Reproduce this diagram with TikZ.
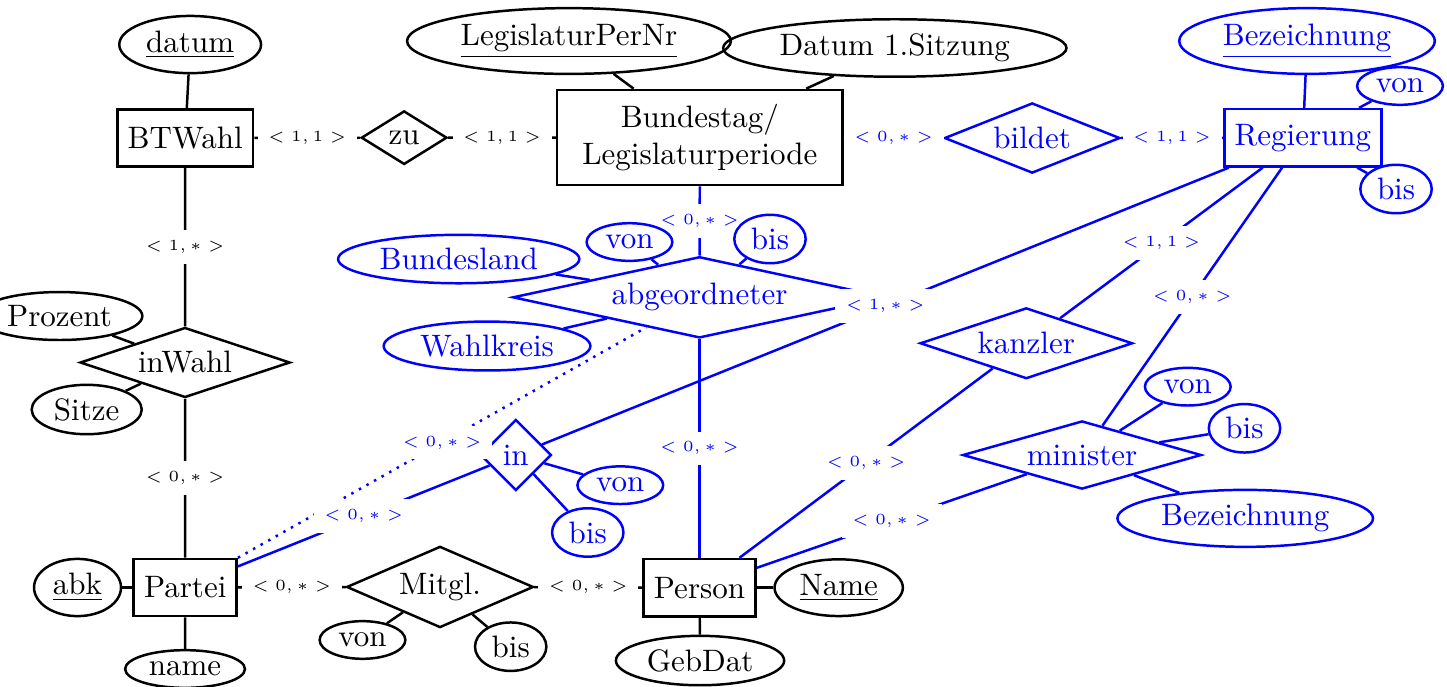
\documentclass[tikz,border=0pt]{standalone}
\usetikzlibrary{shapes.geometric}

\begin{document}
\begin{tikzpicture}[thick,
  entity/.style={draw, rectangle, minimum height=0.65cm},
  rel/.style={draw, diamond, inner sep=2pt},
  attr/.style={draw, ellipse, inner sep=2pt},
  card/.style={fill=white, font=\tiny},
  ]
  \useasboundingbox (0,0) rectangle (16.406,-7.778);

  % entities and relationships
  \node[entity] (bt) at (2.10,-1.565) {BTWahl};
  \node[entity, text width=3cm, align=center, minimum height=1.08cm] (bl)
    at (7.935,-1.559) {Bundestag/\\Legislaturperiode};
  \node[entity] (partei) at (2.10,-6.661) {Partei};
  \node[entity] (person) at (7.931,-6.663) {Person};
  \node[rel, aspect=1.6] (zu) at (4.582,-1.561) {zu};
  \node[rel, aspect=3] (inwahl) at (2.098,-4.110) {inWahl};
  \node[rel, aspect=2.3] (mitgl) at (4.989,-6.655) {Mitgl.};

  \begin{scope}[blue]
    \node[entity] (reg) at (14.772,-1.562) {Regierung};
    \node[rel, aspect=2.5] (bildet) at (11.703,-1.565) {bildet};
    \node[rel, aspect=4.6] (abg) at (7.931,-3.371) {abgeordneter};
    \node[rel, aspect=1] (in) at (5.848,-5.159) {in};
    \node[rel, aspect=3] (kanzler) at (11.636,-3.892) {kanzler};
    \node[rel, aspect=3.5] (minister) at (12.268,-5.159) {minister};
  \end{scope}

  % relationship edges
  \draw (bt) -- node[card] {$<1,1>$} (zu);
  \draw (zu) -- node[card] {$<1,1>$} (bl);
  \draw (bt) -- node[card] {$<1,*>$} (inwahl);
  \draw (inwahl) -- node[card] {$<0,*>$} (partei);
  \draw (partei) -- node[card] {$<0,*>$} (mitgl);
  \draw (mitgl) -- node[card] {$<0,*>$} (person);

  \begin{scope}[blue]
    \draw (bl) -- node[card] {$<0,*>$} (bildet);
    \draw (bildet) -- node[card] {$<1,1>$} (reg);
    \draw (bl) -- node[card] {$<0,*>$} (abg);
    \draw (abg) -- node[card] {$<0,*>$} (person);
    \draw[dotted] (partei) -- node[card] {$<0,*>$} (abg);
    \draw (partei) -- node[card] {$<0,*>$} (in);
    \draw (in) -- node[card] {$<1,*>$} (reg);
    \draw (reg) -- node[card] {$<1,1>$} (kanzler);
    \draw (kanzler) -- node[card] {$<0,*>$} (person);
    \draw (reg) -- node[card] {$<0,*>$} (minister);
    \draw (minister) -- node[card] {$<0,*>$} (person);
  \end{scope}

  % attributes
  \node[attr] (datum) at (2.156,-0.505) {\underline{datum}};
  \node[attr] (lpnr) at (6.451,-0.465) {\underline{LegislaturPerNr}};
  \node[attr] (dsitz) at (10.145,-0.544) {Datum 1.Sitzung};
  \node[attr] (proz) at (0.675,-3.583) {Prozent};
  \node[attr] (sitze) at (0.983,-4.643) {Sitze};
  \node[attr] (abk) at (0.879,-6.661) {\underline{abk}};
  \node[attr] (pname) at (2.098,-7.585) {name};
  \node[attr] (mvon) at (4.110,-7.256) {von};
  \node[attr] (mbis) at (5.790,-7.332) {bis};
  \node[attr] (name) at (9.509,-6.663) {\underline{Name}};
  \node[attr] (gebdat) at (7.937,-7.489) {GebDat};

  \draw (datum) -- (bt);
  \draw (lpnr) -- (bl);
  \draw (dsitz) -- (bl);
  \draw (proz) -- (inwahl);
  \draw (sitze) -- (inwahl);
  \draw (abk) -- (partei);
  \draw (pname) -- (partei);
  \draw (mvon) -- (mitgl);
  \draw (mbis) -- (mitgl);
  \draw (name) -- (person);
  \draw (gebdat) -- (person);

  \begin{scope}[blue]
    \node[attr] (rbez) at (14.819,-0.465) {\underline{Bezeichnung}};
    \node[attr] (rvon) at (15.873,-0.975) {von};
    \node[attr] (rbis) at (15.828,-2.143) {bis};
    \node[attr] (land) at (5.201,-2.937) {Bundesland};
    \node[attr] (kreis) at (5.522,-3.923) {Wahlkreis};
    \node[attr] (avon) at (7.137,-2.744) {von};
    \node[attr] (abis) at (8.730,-2.710) {bis};
    \node[attr] (ivon) at (7.033,-5.501) {von};
    \node[attr] (ibis) at (6.664,-6.037) {bis};
    \node[attr] (mivon) at (13.467,-4.384) {von};
    \node[attr] (mibis) at (14.110,-4.856) {bis};
    \node[attr] (mibez) at (14.118,-5.877) {Bezeichnung};

    \draw (rbez) -- (reg);
    \draw (rvon) -- (reg);
    \draw (rbis) -- (reg);
    \draw (land) -- (abg);
    \draw (kreis) -- (abg);
    \draw (avon) -- (abg);
    \draw (abis) -- (abg);
    \draw (ivon) -- (in);
    \draw (ibis) -- (in);
    \draw (mivon) -- (minister);
    \draw (mibis) -- (minister);
    \draw (mibez) -- (minister);
  \end{scope}
\end{tikzpicture}
\end{document}
